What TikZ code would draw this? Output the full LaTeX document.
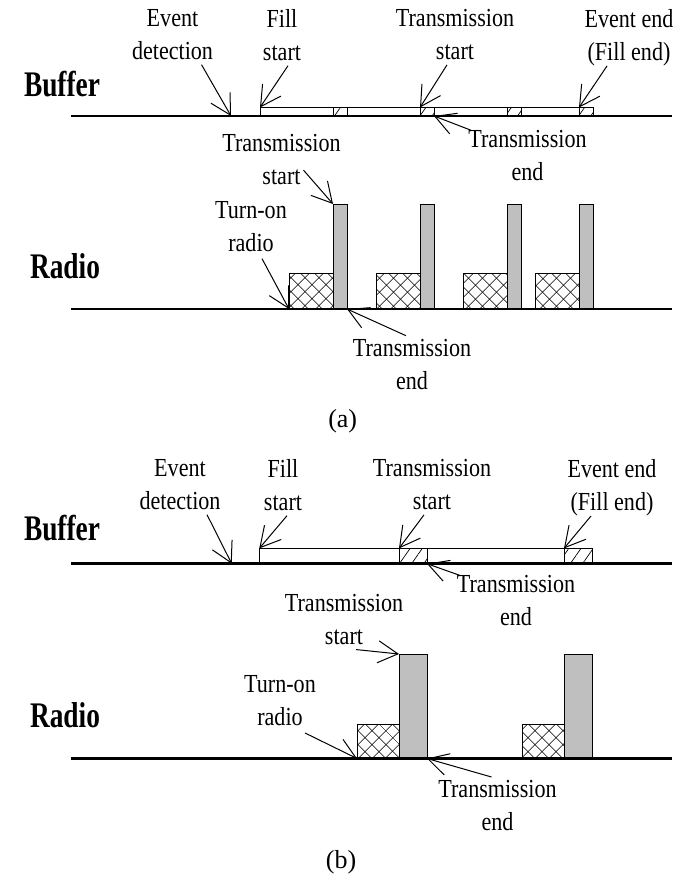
\documentclass[tikz,border=0pt]{standalone}
\usepackage{fontspec}
\setmainfont{Liberation Serif}[FakeStretch=0.85]
\newfontfamily\hdfont{Liberation Serif}[FakeStretch=0.76]
\newfontfamily\capfont{Liberation Serif}
\usetikzlibrary{arrows.meta,patterns.meta}

\begin{document}
\begin{tikzpicture}[x=1pt, y=-1pt,
        lb/.style={align=center, inner sep=0pt, anchor=north, font=\fontsize{26}{33}\selectfont},
        hd/.style={inner sep=0pt, anchor=base, font=\hdfont\bfseries\fontsize{36}{40}\selectfont},
        ln/.style={line width=2.7pt},
        ar/.style={line width=1pt, -{Straight Barb[length=20pt,width=22pt]}},
        bx/.style={draw, line width=0.8pt, inner sep=0pt, outer sep=0pt, anchor=south west},
        fb/.style={bx, fill=white},
        hb/.style={bx, pattern={Lines[angle=55,distance=10pt,line width=0.7pt]}},
        tb/.style={bx, fill=black!25},
        ob/.style={bx, anchor=south east, pattern={Lines[angle=45,distance=10.5pt,line width=0.7pt]},
          postaction={pattern={Lines[angle=-45,distance=10.5pt,line width=0.7pt]}}}
      ]
      \useasboundingbox (0,0) rectangle (672,890);

      % (a)
      \node[hd] (bfa) at (62,97) {Buffer};
      \node[hd] (rda) at (65,279) {Radio};
      \node[fb, minimum width=333pt, minimum height=8.5pt] (fla) at (260,116) {};
      \foreach \x [count=\i] in {333,420,507,579} {
        \node[hb, minimum width=14pt, minimum height=8.5pt] (sa\i) at (\x,116) {};
        \node[tb, minimum width=14pt, minimum height=105pt] (xa\i) at (\x,309) {};
        \node[ob, minimum width=44pt, minimum height=36pt] (wa\i) at (\x,309) {};
      }
      \draw[ln] (71,116) -- (672,116);
      \draw[ln] (71,309) -- (672,309);
      \coordinate (eda-p) at (231,116);

      \node[lb] (eda) at (172.5,9) {Event\\detection};
      \node[lb] (fsa) at (282,9) {Fill\\start};
      \node[lb] (tsa) at (455,9) {Transmission\\start};
      \node[lb] (eea) at (629,9) {Event end\\(Fill end)};
      \node[lb] (tea) at (527.5,130.3) {Transmission\\end};
      \node[lb] (tra) at (281.5,134.3) {Transmission\\start};
      \node[lb] (ona) at (251,201) {Turn-on\\radio};
      \node[lb] (rea) at (412,338.7) {Transmission\\end};
      \node[inner sep=0pt, anchor=base, font=\capfont\fontsize{26}{30}\selectfont] (capa) at (342.7,427) {(a)};

      \draw[ar] ([xshift=29pt,yshift=-5pt]eda.south) -- (eda-p);
      \draw[ar] ([xshift=6pt,yshift=-5pt]fsa.south) -- (fla.north west);
      \draw[ar] ([xshift=-8pt,yshift=-5pt]tsa.south) -- (sa2.north west);
      \draw[ar] ([xshift=-22pt]eea.south) -- (sa4.north west);
      \draw[ar] ([xshift=3pt]tea.north west) -- (sa2.south east);
      \draw[ar] ([xshift=22pt,yshift=15pt]tra.south) -- (xa1.north west);
      \draw[ar] ([xshift=11pt,yshift=-7pt]ona.south) -- (wa1.south west);
      \draw[ar] ([xshift=-6pt,yshift=3pt]rea.north) -- (xa1.south east);

      % (b)
      \node[hd] (bfb) at (62,540) {Buffer};
      \node[hd] (rdb) at (65,727) {Radio};
      \node[fb, minimum width=333.5pt, minimum height=15.3pt] (flb) at (259.3,563.7) {};
      \foreach \x [count=\i] in {399,564} {
        \node[hb, minimum width=28pt, minimum height=15.3pt] (sb\i) at (\x,563.7) {};
        \node[tb, minimum width=28pt, minimum height=104.5pt] (xb\i) at (\x,758.5) {};
        \node[ob, minimum width=42pt, minimum height=34pt] (wb\i) at (\x,758.5) {};
      }
      \draw[ln] (71,563.7) -- (672,563.7);
      \draw[ln] (71,758.5) -- (672,758.5);
      \coordinate (edb-p) at (231.7,563.7);

      \node[lb] (edb) at (180,459) {Event\\detection};
      \node[lb] (fsb) at (283,459) {Fill\\start};
      \node[lb] (tsb) at (432,459) {Transmission\\start};
      \node[lb] (eeb) at (612,459) {Event end\\(Fill end)};
      \node[lb] (teb) at (516,575.3) {Transmission\\end};
      \node[lb] (trb) at (344,593.7) {Transmission\\start};
      \node[lb] (onb) at (280,675.3) {Turn-on\\radio};
      \node[lb] (reb) at (497.5,780) {Transmission\\end};
      \node[inner sep=0pt, anchor=base, font=\capfont\fontsize{26}{30}\selectfont] (capb) at (341,868) {(b)};

      \draw[ar] ([xshift=27pt,yshift=-5pt]edb.south) -- (edb-p);
      \draw[ar] ([xshift=4pt,yshift=-5pt]fsb.south) -- (flb.north west);
      \draw[ar] ([xshift=-8pt,yshift=-5pt]tsb.south) -- (sb1.north west);
      \draw[ar] ([xshift=-21pt]eeb.south) -- (sb2.north west);
      \draw[ar] ([xshift=3pt]teb.north west) -- (sb1.south east);
      \draw[ar] ([xshift=12pt,yshift=-5pt]trb.south) -- (xb1.north west);
      \draw[ar] ([xshift=25pt,yshift=-7pt]onb.south) -- (wb1.south west);
      \draw[ar] ([xshift=-6pt,yshift=3pt]reb.north) -- (xb1.south east);
    \end{tikzpicture}
\end{document}
